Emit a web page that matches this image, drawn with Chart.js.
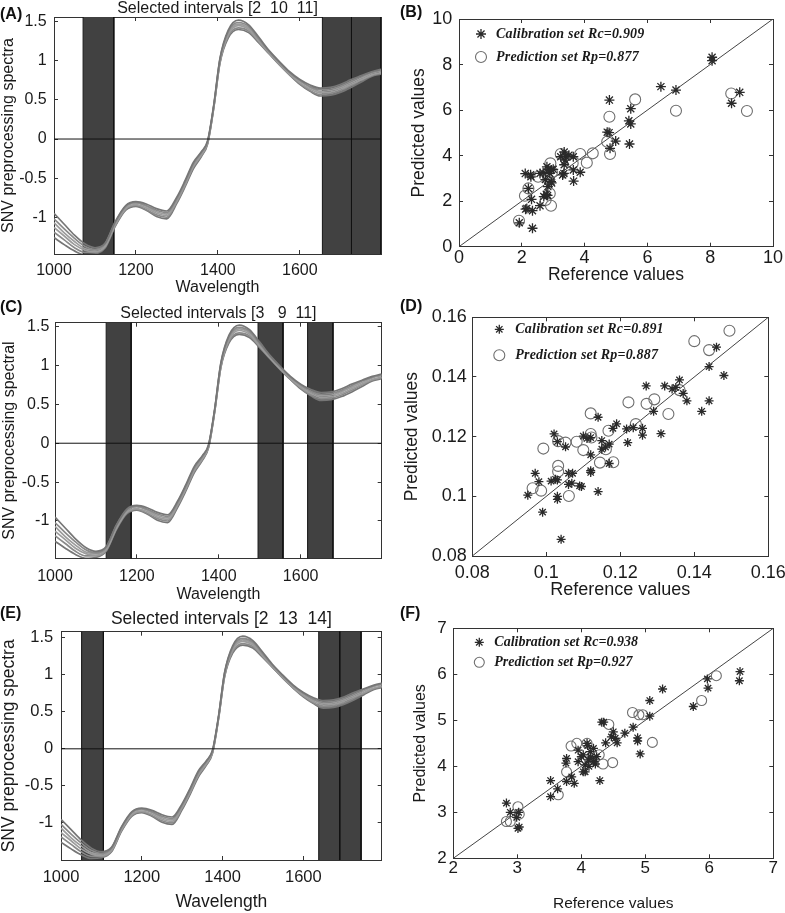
<!DOCTYPE html>
<html lang="en">
<head>
<meta charset="UTF-8" />
<title>Selected intervals and PLS predictions</title>
<script src="https://cdn.jsdelivr.net/npm/chart.js@4.4.0/dist/chart.umd.min.js"></script>
<style>
  body { margin: 0; background: #fff; }
  #page { position: relative; width: 785px; height: 913px; overflow: hidden; font-family: "Liberation Sans", Arial, sans-serif; }
  canvas { position: absolute; }
  .lab { position: absolute; font-weight: bold; font-size: 16px; line-height: 16px; color: #111; }
</style>
</head>
<body>
<div id="page">
  <canvas id="cA"></canvas>
  <canvas id="cB"></canvas>
  <canvas id="cC"></canvas>
  <canvas id="cD"></canvas>
  <canvas id="cE"></canvas>
  <canvas id="cF"></canvas>
  <div class="lab" style="left:0;top:6px">(A)</div>
  <div class="lab" style="left:400px;top:4px">(B)</div>
  <div class="lab" style="left:0;top:299px">(C)</div>
  <div class="lab" style="left:400px;top:298px">(D)</div>
  <div class="lab" style="left:0;top:605px">(E)</div>
  <div class="lab" style="left:400px;top:605px">(F)</div>
</div>
<script>
var SANS = '"Liberation Sans", Arial, sans-serif';
var SERIF = '"Liberation Serif", "Times New Roman", serif';

// SNV spectra (same samples in A, C and E)
var wavelengths = [1000, 1025, 1050, 1075, 1100, 1125, 1150, 1175, 1200, 1225, 1250, 1275, 1300, 1320, 1340, 1360, 1375, 1390,
  1405, 1425, 1450, 1475, 1500, 1525, 1550, 1575, 1600, 1625, 1650, 1675, 1700, 1725, 1750, 1775, 1798];
var spectrum1 = [-0.95, -1.09, -1.23, -1.34, -1.39, -1.33, -1.05, -0.85, -0.80, -0.83, -0.89, -0.92, -0.74, -0.53, -0.30, -0.16, -0.02, 0.44,
  1.03, 1.39, 1.52, 1.46, 1.30, 1.13, 0.99, 0.86, 0.76, 0.69, 0.65, 0.66, 0.70, 0.76, 0.81, 0.86, 0.89];
var spectrum2 = [-1.02, -1.15, -1.27, -1.37, -1.41, -1.34, -1.06, -0.86, -0.81, -0.85, -0.91, -0.94, -0.76, -0.55, -0.32, -0.17, -0.03, 0.43,
  1.02, 1.37, 1.49, 1.44, 1.28, 1.12, 0.98, 0.85, 0.75, 0.67, 0.63, 0.64, 0.68, 0.74, 0.80, 0.85, 0.88];
var spectrum3 = [-1.07, -1.20, -1.31, -1.40, -1.42, -1.35, -1.07, -0.87, -0.82, -0.86, -0.93, -0.96, -0.77, -0.56, -0.33, -0.18, -0.04, 0.42,
  1.01, 1.35, 1.47, 1.42, 1.27, 1.11, 0.97, 0.84, 0.74, 0.66, 0.61, 0.62, 0.66, 0.72, 0.78, 0.84, 0.87];
var spectrum4 = [-1.13, -1.24, -1.35, -1.42, -1.44, -1.37, -1.09, -0.89, -0.84, -0.88, -0.95, -0.98, -0.79, -0.58, -0.35, -0.20, -0.04, 0.42,
  0.99, 1.33, 1.45, 1.40, 1.25, 1.10, 0.96, 0.83, 0.72, 0.64, 0.59, 0.60, 0.64, 0.70, 0.76, 0.82, 0.85];
var spectrum5 = [-1.19, -1.29, -1.39, -1.45, -1.45, -1.38, -1.10, -0.90, -0.85, -0.90, -0.97, -1.00, -0.80, -0.59, -0.36, -0.21, -0.05, 0.41,
  0.98, 1.31, 1.42, 1.38, 1.24, 1.09, 0.95, 0.82, 0.71, 0.62, 0.57, 0.58, 0.62, 0.68, 0.75, 0.81, 0.84];
var spectrum6 = [-1.26, -1.35, -1.43, -1.48, -1.47, -1.39, -1.11, -0.91, -0.86, -0.91, -0.99, -1.02, -0.82, -0.61, -0.38, -0.22, -0.06, 0.40,
  0.97, 1.29, 1.40, 1.36, 1.23, 1.09, 0.95, 0.82, 0.70, 0.61, 0.55, 0.56, 0.60, 0.66, 0.73, 0.80, 0.83];
var spectra = [spectrum1, spectrum2, spectrum3, spectrum4, spectrum5, spectrum6];
var spectraColors = ['#767676', '#8a8a8a', '#9c9c9c', '#9c9c9c', '#8a8a8a', '#767676'];

// selected wavelength intervals (nm)
var bandsA = [[1071, 1146], [1655, 1726], [1726, 1798]];
var bandsC = [[1125, 1186], [1496, 1557], [1617, 1679]];
var bandsE = [[1051, 1105], [1638, 1690], [1690, 1743]];
var titleA = 'Selected intervals [2  10  11]';
var titleC = 'Selected intervals [3   9  11]';
var titleE = 'Selected intervals [2  13  14]';
var wlTicks = [1000, 1200, 1400, 1600];
var snvTicks = [-1, -0.5, 0, 0.5, 1, 1.5];

// reference vs predicted values [x, y]
var calB = [[8.06, 8.32], [8.06, 8.17], [8.94, 6.78], [8.68, 6.30], [6.43, 7.03], [6.91, 6.88], [4.79, 6.44], [5.47, 6.06],
  [5.41, 5.53], [5.47, 5.39], [4.78, 5.01], [4.72, 5.03], [4.99, 4.64], [4.81, 4.32], [5.43, 4.51], [3.35, 4.16], [3.24, 3.95],
  [3.39, 3.97], [3.64, 3.95], [3.50, 4.02], [3.34, 3.22], [3.30, 3.15], [3.64, 3.37], [3.86, 3.27], [3.65, 2.88], [2.80, 3.51],
  [2.89, 3.22], [2.94, 3.37], [2.11, 3.21], [2.28, 3.16], [2.29, 3.07], [2.21, 2.56], [2.31, 2.08], [2.12, 1.65], [2.16, 1.68],
  [2.34, 1.58], [2.58, 1.80], [2.70, 2.20], [2.82, 2.25], [2.83, 2.64], [2.93, 2.86], [2.68, 3.25], [2.58, 3.22], [1.92, 1.05],
  [2.34, 0.81], [3.38, 3.80], [3.35, 3.60], [2.85, 3.40], [2.95, 2.80], [2.75, 2.95], [2.78, 2.30], [3.00, 3.40]];
var preB = [[8.67, 6.73], [9.17, 5.96], [6.91, 5.97], [5.61, 6.47], [4.79, 5.71], [4.72, 4.61], [4.81, 4.07], [4.26, 4.10],
  [4.07, 3.69], [3.86, 4.07], [3.24, 4.07], [2.91, 3.66], [2.96, 3.27], [2.84, 2.97], [2.52, 3.07], [2.21, 2.56], [2.10, 2.24],
  [2.89, 2.34], [2.76, 2.05], [2.93, 1.80], [1.91, 1.14], [3.62, 3.66]];
var legendB = ['Calibration set Rc=0.909', 'Prediction set Rp=0.877'];
var ticksB = [0, 2, 4, 6, 8, 10];

var calD = [[0.146, 0.150], [0.144, 0.1435], [0.148, 0.1405], [0.144, 0.132], [0.142, 0.1285], [0.136, 0.139], [0.137, 0.1345],
  [0.138, 0.132], [0.132, 0.137], [0.127, 0.137], [0.129, 0.1285], [0.131, 0.121], [0.1235, 0.123], [0.1217, 0.1226],
  [0.126, 0.1205], [0.126, 0.1228], [0.122, 0.118], [0.119, 0.1243], [0.118, 0.1228], [0.117, 0.1175], [0.116, 0.1165],
  [0.117, 0.111], [0.115, 0.1187], [0.115, 0.1158], [0.114, 0.1265], [0.112, 0.1197], [0.112, 0.1139], [0.112, 0.1086],
  [0.112, 0.108], [0.114, 0.1016], [0.110, 0.1202], [0.111, 0.1194], [0.109, 0.1035], [0.1095, 0.1033], [0.1071, 0.1077],
  [0.106, 0.1077], [0.106, 0.104], [0.1069, 0.1044], [0.1052, 0.1166], [0.103, 0.1183], [0.1021, 0.1209], [0.1025, 0.1057],
  [0.103, 0.1055], [0.1013, 0.1051], [0.103, 0.100], [0.103, 0.099], [0.104, 0.0856], [0.099, 0.0947], [0.098, 0.1049],
  [0.097, 0.1077], [0.095, 0.1004], [0.134, 0.136], [0.135, 0.1365]];
var preD = [[0.1495, 0.1555], [0.140, 0.152], [0.144, 0.149], [0.136, 0.1356], [0.1222, 0.1315], [0.1271, 0.131],
  [0.1292, 0.1325], [0.133, 0.1276], [0.1242, 0.1242], [0.112, 0.1278], [0.112, 0.1209], [0.1122, 0.1197], [0.1168, 0.122],
  [0.1161, 0.1158], [0.1145, 0.1113], [0.1181, 0.1114], [0.1082, 0.1183], [0.110, 0.1155], [0.1052, 0.118], [0.1032, 0.1185],
  [0.1032, 0.1102], [0.1032, 0.1083], [0.0963, 0.1027], [0.0986, 0.1019], [0.1061, 0.1001], [0.0992, 0.116]];
var legendD = ['Calibration set Rc=0.891', 'Prediction set Rp=0.887'];
var ticksD = [0.08, 0.1, 0.12, 0.14, 0.16];

var calF = [[6.48, 6.06], [6.47, 5.86], [5.97, 5.90], [5.98, 5.70], [5.75, 5.30], [5.27, 5.68], [5.07, 5.43], [5.07, 5.09],
  [4.81, 4.85], [4.68, 4.72], [4.56, 4.51], [4.53, 4.61], [4.50, 4.75], [4.88, 4.62], [4.88, 4.55], [4.92, 4.27], [4.35, 4.96],
  [4.32, 4.96], [4.38, 4.51], [4.47, 4.64], [4.29, 3.69], [4.09, 4.50], [4.00, 4.21], [4.06, 3.88], [3.76, 4.07], [3.77, 4.17],
  [3.77, 3.67], [3.89, 3.63], [3.52, 3.69], [3.52, 3.34], [3.63, 3.51], [2.83, 3.20], [2.89, 3.00], [2.99, 2.89], [3.02, 3.00],
  [3.01, 2.65], [3.03, 2.68], [3.95, 4.10], [4.03, 4.25], [4.14, 4.32], [4.19, 4.39], [4.11, 4.14], [4.06, 4.03], [4.19, 4.10],
  [4.03, 3.88], [3.85, 3.77], [4.24, 4.21], [4.15, 4.20], [4.10, 4.45], [4.22, 4.05], [4.12, 4.00], [3.95, 4.35]];
var preF = [[6.11, 5.97], [5.88, 5.43], [5.11, 4.52], [4.80, 5.17], [4.90, 5.12], [4.96, 5.12], [4.43, 4.91], [4.49, 4.08],
  [4.34, 4.05], [4.28, 4.25], [4.09, 4.50], [3.93, 4.50], [3.84, 4.44], [3.77, 3.88], [3.64, 3.38], [3.01, 3.12], [3.03, 2.96],
  [2.89, 2.80], [2.83, 2.80]];
var legendF = ['Calibration set Rc=0.938', 'Prediction set Rp=0.927'];
var ticksF = [2, 3, 4, 5, 6, 7];

function pts(pairs) {
  return pairs.map(function (p) { return { x: p[0], y: p[1] }; });
}

function fixedTicks(vals) {
  return function (s) { s.ticks = vals.map(function (v) { return { value: v }; }); };
}

// four boxed axes, MATLAB style: ticks pointing inward, no grid
function makeScales(p) {
  var w = p.box[2], h = p.box[3], a = p.area;
  var grid = { drawOnChartArea: false, drawTicks: true, tickLength: -4, color: '#333', lineWidth: 1 };
  var border = { display: true, color: '#333', width: 1 };
  var fmt = function (v) { return String(+Number(v).toFixed(4)); };
  var tf = { family: SANS, size: p.tick };
  return {
    x: {
      type: 'linear', position: 'bottom', min: p.xr[0], max: p.xr[1], grid: grid, border: border,
      afterBuildTicks: fixedTicks(p.xticks),
      ticks: { autoSkip: false, maxRotation: 0, font: tf, color: '#1a1a1a', padding: p.xtp, callback: fmt },
      title: { display: true, text: p.xt, color: '#1a1a1a', font: { family: SANS, size: p.xts, lineHeight: 1 }, padding: { top: 0, bottom: p.xtitle } },
      afterFit: function (s) { s.height = h - a[3]; s.paddingLeft = 0; s.paddingRight = 0; }
    },
    x2: {
      type: 'linear', position: 'top', min: p.xr[0], max: p.xr[1], grid: grid, border: border,
      afterBuildTicks: fixedTicks(p.xticks),
      ticks: { display: false, autoSkip: false },
      title: { display: !!p.title, text: p.title || '', color: '#1a1a1a', font: { family: SANS, size: p.tts || 16, lineHeight: 1 }, padding: { top: p.ttitle || 0, bottom: 0 } },
      afterFit: function (s) { s.height = a[1]; s.paddingLeft = 0; s.paddingRight = 0; }
    },
    y: {
      type: 'linear', position: 'left', min: p.yr[0], max: p.yr[1], grid: grid, border: border,
      afterBuildTicks: fixedTicks(p.yticks),
      ticks: { autoSkip: false, font: tf, color: '#1a1a1a', padding: p.ytp, callback: fmt },
      title: { display: true, text: p.yt, color: '#1a1a1a', font: { family: SANS, size: p.yts, lineHeight: 1 }, padding: { top: p.ytitle, bottom: 0 } },
      afterFit: function (s) { s.width = a[0]; s.paddingTop = 0; s.paddingBottom = 0; }
    },
    y2: {
      type: 'linear', position: 'right', min: p.yr[0], max: p.yr[1], grid: grid, border: border,
      afterBuildTicks: fixedTicks(p.yticks),
      ticks: { display: false, autoSkip: false },
      afterFit: function (s) { s.width = w - a[2]; s.paddingTop = 0; s.paddingBottom = 0; }
    }
  };
}

function setupCanvas(p) {
  var c = document.getElementById(p.id);
  c.width = p.box[2];
  c.height = p.box[3];
  c.style.left = p.box[0] + 'px';
  c.style.top = p.box[1] + 'px';
  c.style.width = p.box[2] + 'px';
  c.style.height = p.box[3] + 'px';
  return c;
}

function spectraChart(p) {
  var ds = [];
  ds.push({ data: [{ x: 1000, y: 0 }, { x: 1798, y: 0 }], borderColor: '#111', borderWidth: 1, pointRadius: 0, order: 0 });
  spectra.forEach(function (s, k) {
    ds.push({
      data: wavelengths.map(function (wl, i) { return { x: wl, y: s[i] }; }),
      borderColor: spectraColors[k], borderWidth: 1.7, pointRadius: 0, cubicInterpolationMode: 'monotone', order: 1
    });
  });
  p.bands.forEach(function (b) {
    ds.push({
      data: [{ x: b[0], y: -5 }, { x: b[0], y: 5 }, { x: b[1], y: 5 }, { x: b[1], y: -5 }],
      borderColor: '#111', borderWidth: 1, backgroundColor: '#414141', fill: { value: -5 }, pointRadius: 0, order: 2
    });
  });
  new Chart(setupCanvas(p), {
    type: 'line',
    data: { datasets: ds },
    options: {
      responsive: false, animation: false, devicePixelRatio: 1,
      layout: { padding: 0, autoPadding: false },
      plugins: { legend: { display: false }, tooltip: { enabled: false } },
      scales: makeScales(p)
    }
  });
}

// legend drawn inside the plot box, top-left
var insideLegend = {
  id: 'insideLegend',
  afterDatasetsDraw: function (chart, args, o) {
    var ctx = chart.ctx, a = chart.chartArea;
    ctx.save();
    ctx.font = o.font;
    ctx.letterSpacing = o.spacing;
    ctx.textBaseline = 'middle';
    ctx.textAlign = 'left';
    [0, 1].forEach(function (i) {
      var d = chart.data.datasets[i];
      var x = a.left + o.dx, y = a.top + o.dy + i * o.gap, r = d.pointRadius;
      ctx.strokeStyle = d.borderColor;
      ctx.lineWidth = d.borderWidth;
      ctx.beginPath();
      if (d.pointStyle === 'star') {
        for (var k = 0; k < 4; k++) {
          var ang = k * Math.PI / 4;
          ctx.moveTo(x - Math.cos(ang) * r, y - Math.sin(ang) * r);
          ctx.lineTo(x + Math.cos(ang) * r, y + Math.sin(ang) * r);
        }
      } else {
        ctx.arc(x, y, r, 0, Math.PI * 2);
      }
      ctx.stroke();
      ctx.fillStyle = '#1a1a1a';
      ctx.fillText(d.label, a.left + o.textDx, y);
    });
    ctx.restore();
  }
};

function scatterChart(p) {
  var ds = [
    { label: p.legend[0], data: pts(p.cal), pointStyle: 'star', pointRadius: p.starR, borderColor: '#2a2a2a', borderWidth: 1.3, backgroundColor: 'rgba(0,0,0,0)', order: 0 },
    { label: p.legend[1], data: pts(p.pre), pointStyle: 'circle', pointRadius: p.circR, borderColor: '#6e6e6e', borderWidth: 1.1, backgroundColor: 'rgba(0,0,0,0)', order: 1 },
    { data: [{ x: p.xr[0], y: p.yr[0] }, { x: p.xr[1], y: p.yr[1] }], showLine: true, pointRadius: 0, borderColor: '#444', borderWidth: 1, order: 2 }
  ];
  new Chart(setupCanvas(p), {
    type: 'scatter',
    data: { datasets: ds },
    options: {
      responsive: false, animation: false, devicePixelRatio: 1,
      layout: { padding: 0, autoPadding: false },
      plugins: { legend: { display: false }, tooltip: { enabled: false }, insideLegend: p.leg },
      scales: makeScales(p)
    },
    plugins: [insideLegend]
  });
}

spectraChart({ id: 'cA', box: [0, 0, 392, 300], area: [54, 17, 381, 254], xr: [1000, 1798], yr: [-1.47, 1.56],
  xticks: wlTicks, yticks: snvTicks,
  tick: 16, xtp: 11, ytp: 11.3, xt: 'Wavelength', xts: 16, xtitle: 4, yt: 'SNV preprocessing spectra', yts: 16, ytitle: 0.3,
  title: titleA, tts: 16, ttitle: 0.8, bands: bandsA });
spectraChart({ id: 'cC', box: [0, 300, 392, 310], area: [55, 22.7, 381.7, 258.3], xr: [1000, 1798], yr: [-1.48, 1.55],
  xticks: wlTicks, yticks: snvTicks,
  tick: 16, xtp: 13.1, ytp: 9.7, xt: 'Wavelength', xts: 16, xtitle: 7, yt: 'SNV preprocessing spectral', yts: 16, ytitle: 1.2,
  title: titleC, tts: 16, ttitle: 5.7, bands: bandsC });
spectraChart({ id: 'cE', box: [0, 610, 392, 303], area: [61, 21.7, 381.7, 250], xr: [1000, 1794], yr: [-1.50, 1.58],
  xticks: wlTicks, yticks: snvTicks,
  tick: 16.5, xtp: 11.1, ytp: 11.7, xt: 'Wavelength', xts: 17.5, xtitle: 2.2, yt: 'SNV preprocessing spectra', yts: 17.5, ytitle: 0,
  title: titleE, tts: 17.5, ttitle: 0, bands: bandsE });

scatterChart({ id: 'cB', box: [400, 0, 385, 300], area: [59, 19, 373, 246.7], xr: [0, 10], yr: [0, 10],
  xticks: ticksB, yticks: ticksB,
  tick: 18, xtp: 4.6, ytp: 10.7, xt: 'Reference values', xts: 17.5, xtitle: 16.2, yt: 'Predicted values', yts: 17.5, ytitle: 10.2,
  cal: calB, pre: preB, legend: legendB, starR: 5, circR: 5.5,
  leg: { dx: 22, dy: 15, textDx: 37, gap: 23, font: 'italic bold 14px ' + SERIF, spacing: '0.2px' } });
scatterChart({ id: 'cD', box: [400, 300, 385, 310], area: [72.3, 17.3, 368.3, 256], xr: [0.08, 0.16], yr: [0.08, 0.16],
  xticks: ticksD, yticks: ticksD,
  tick: 18, xtp: 10.2, ytp: 9.6, xt: 'Reference values', xts: 18, xtitle: 11, yt: 'Predicted values', yts: 17.5, ytitle: 3,
  cal: calD, pre: preD, legend: legendD, starR: 4.5, circR: 5.5,
  leg: { dx: 27, dy: 12, textDx: 43, gap: 26, font: 'italic bold 14px ' + SERIF, spacing: '0.2px' } });
scatterChart({ id: 'cF', box: [400, 610, 385, 303], area: [53.3, 18.3, 373.3, 248.3], xr: [2, 7], yr: [2, 7],
  xticks: ticksF, yticks: ticksF,
  tick: 17, xtp: 3.5, ytp: 10.6, xt: 'Reference values', xts: 15.5, xtitle: 1.3, yt: 'Predicted values', yts: 16, ytitle: 12.7,
  cal: calF, pre: preF, legend: legendF, starR: 4.5, circR: 5,
  leg: { dx: 26, dy: 14, textDx: 41, gap: 20, font: 'italic bold 14px ' + SERIF, spacing: '0px' } });
</script>
</body>
</html>
